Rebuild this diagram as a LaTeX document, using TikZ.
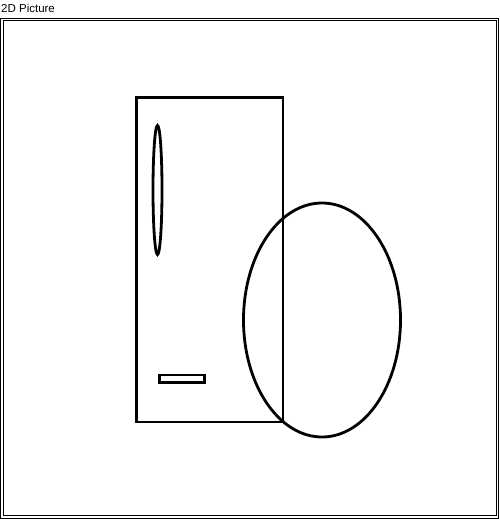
\documentclass[tikz,border=0pt]{standalone}
\usepackage{fontspec}
\setmainfont{Liberation Sans}

\begin{document}
\begin{tikzpicture}[x=1pt, y=-1pt,
  frame/.style={draw=black, line width=1pt},
  part/.style={draw=black, line width=2.8pt},
  caption/.style={anchor=base west, inner sep=0pt, font=\fontsize{11.5}{13}\selectfont}
]
\useasboundingbox (0,0) rectangle (500,519);
\node[caption] (title) at (1,13) {2D Picture};

% window frame
\draw[frame] (0.5,18.5) rectangle (498.5,518);
\draw[frame] (3,21) rectangle (496,515.5);

% fridge body, handle and slot
\draw[part] (136.5,97.5) rectangle (283,422);
\draw[part] (157.5,190) ellipse [x radius=4.5, y radius=64.5];
\draw[part] (159.5,375) rectangle (204.5,382.5);

% round thing in front
\draw[part] (322,320) ellipse [x radius=78.5, y radius=117];
\end{tikzpicture}
\end{document}
